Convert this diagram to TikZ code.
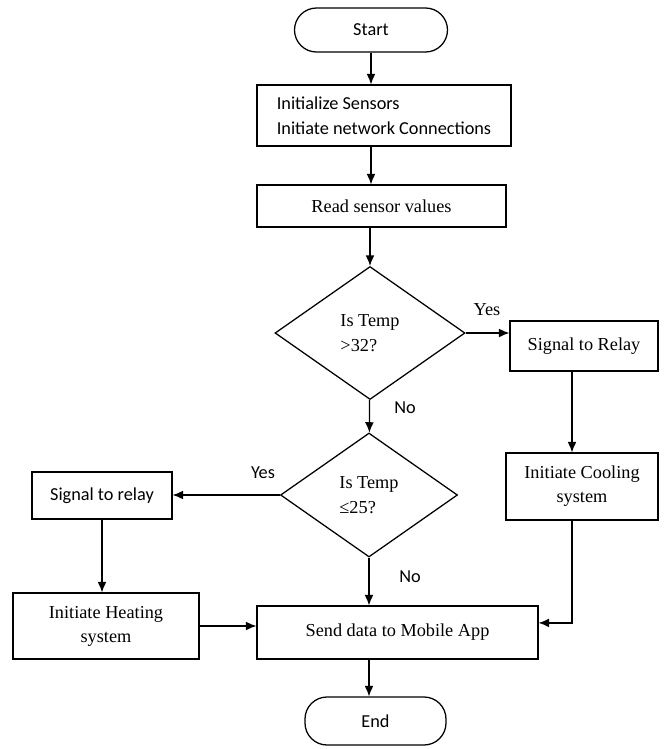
\documentclass[tikz,border=0pt]{standalone}
\usepackage{fontspec}
\setmainfont{Liberation Serif}
\newfontfamily\calibri{Carlito}
\usetikzlibrary{shapes.geometric,arrows.meta}
\tikzset{
  box/.style={draw, line width=0.9pt, rectangle, align=center, inner sep=2pt, font=\fontsize{13}{17}\selectfont},
  sansbox/.style={box, font=\calibri\fontsize{13}{18}\selectfont},
  term/.style={sansbox, rounded corners=0.55cm},
  decide/.style={draw, line width=0.9pt, diamond, inner sep=0pt, align=left, font=\fontsize{13}{18}\selectfont},
  lbl/.style={font=\calibri\fontsize{13}{16}\selectfont},
}
\begin{document}
\begin{tikzpicture}[>={Latex[length=2.6mm,width=2.2mm]}, line width=0.9pt]
            \useasboundingbox (0,0) rectangle (16.6,-18.725);
            % main column
            \node[term, minimum width=3.825cm, minimum height=1.1cm] (start) at (9.275,-0.75) {Start};
            \node[sansbox, minimum width=6.35cm, minimum height=1.525cm, align=left] (init) at (9.6,-2.8875) {Initialize Sensors\\Initiate network Connections};
            \node[box, minimum width=6.225cm, minimum height=1.05cm] (read) at (9.5375,-5.15) {Read sensor values};
            \node[decide, minimum width=4.75cm, minimum height=3.325cm] (hot) at (9.25,-8.325) {Is Temp\\>32?};
            \node[decide, minimum width=4.425cm, minimum height=3.1cm] (cold) at (9.225,-12.375) {Is Temp\\≤25?};
            \node[box, minimum width=7.025cm, minimum height=1.325cm] (send) at (9.9375,-15.8125) {Send data to Mobile App};
            \node[term, minimum width=3.525cm, minimum height=1.2cm] (end) at (9.3875,-18.025) {End};
            % cooling branch
            \node[box, minimum width=3.7cm, minimum height=1.25cm] (relayhot) at (14.6,-8.65) {Signal to Relay};
            \node[box, minimum width=3.8cm, minimum height=1.675cm] (cool) at (14.55,-12.1625) {Initiate Cooling\\system};
            % heating branch
            \node[sansbox, minimum width=3.5cm, minimum height=1.175cm] (relaycold) at (2.55,-12.3875) {Signal to relay};
            \node[box, minimum width=4.65cm, minimum height=1.65cm] (heat) at (2.65,-15.65) {Initiate Heating\\system};
            % labels
            \node[font=\fontsize{13}{16}\selectfont] (yeshot) at (12.175,-7.75) {Yes};
            \node[lbl] (nohot) at (10.125,-10.2) {No};
            \node[lbl] (yescold) at (6.575,-11.825) {Yes};
            \node[lbl] (nocold) at (10.25,-14.425) {No};
            % arrows
            \draw[->] (start) -- (start |- init.north);
            \draw[->] (init.south -| start) -- (read.north -| start);
            \draw[->] (read.south -| hot) -- (hot);
            \draw[->] (hot) -- (cold);
            \draw[->] (hot.east) -- (hot.east -| relayhot.west);
            \draw[->] ([xshift=-0.3cm]relayhot.south) -- ([xshift=-0.3cm]relayhot.south |- cool.north);
            \draw[->] ([xshift=-0.25cm]cool.south) |- ([yshift=0.24cm]send.east);
            \draw[->] (cold.west) -- (cold.west -| relaycold.east);
            \draw[->] (relaycold) -- (relaycold |- heat.north);
            \draw[->] (heat.east) -- (heat.east -| send.west);
            \draw[->] (cold) -- (cold |- send.north);
            \draw[->] (send.south -| cold) -- (end.north -| cold);
        \end{tikzpicture}
\end{document}
